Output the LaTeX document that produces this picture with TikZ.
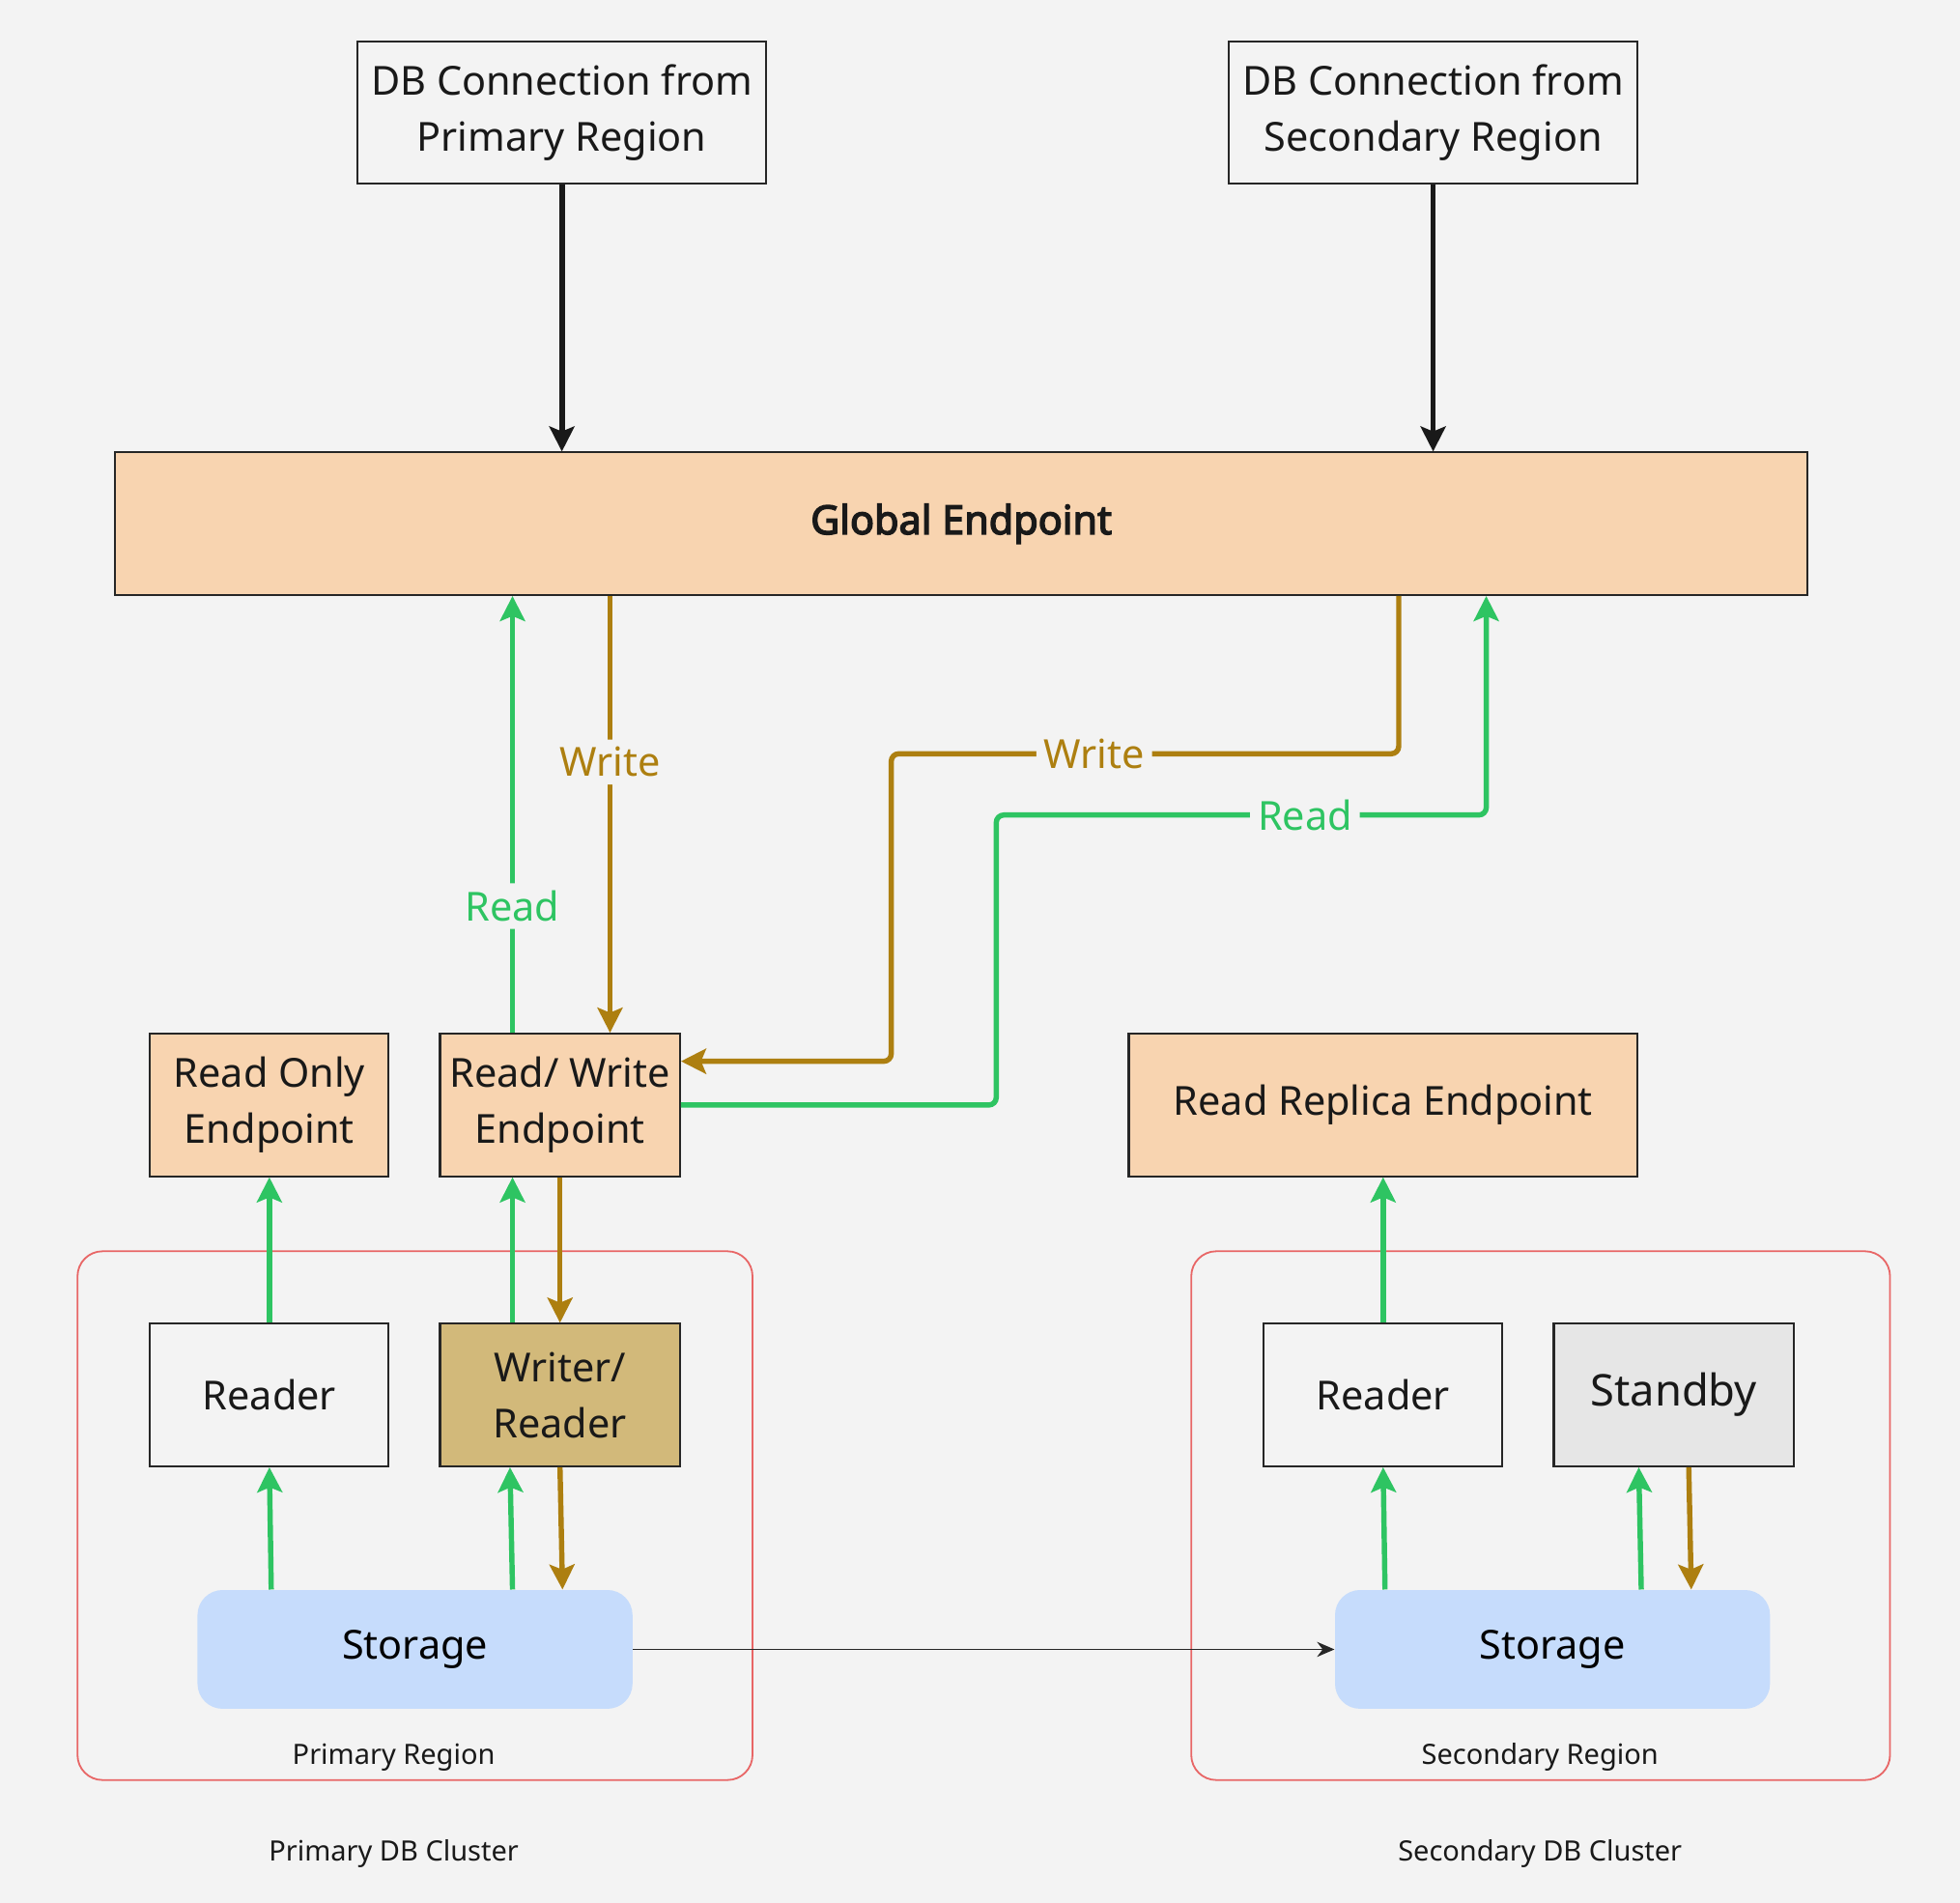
\documentclass[tikz,border=0pt]{standalone}
\usepackage{fontspec}
\setmainfont{Noto Sans}
\newfontfamily\gbold{Noto Sans}[FakeBold=3.5]
\usetikzlibrary{arrows.meta,calc}
\definecolor{bg}{HTML}{F3F3F3}
\definecolor{gr}{HTML}{2EC462}
\definecolor{br}{HTML}{AD7F10}
\definecolor{orf}{HTML}{F8D4B0}
\definecolor{wr}{HTML}{D2B97A}
\definecolor{sb}{HTML}{E6E6E6}
\definecolor{st}{HTML}{C6DCFC}
\definecolor{rg}{HTML}{E86666}
\begin{document}
\begin{tikzpicture}[x=0.5pt,y=-0.5pt,
 box/.style={draw=black!85,line width=0.8pt,align=center,font=\fontsize{16}{22.5}\selectfont,inner sep=0pt,text=black!90},
 stor/.style={fill=st,rounded corners=10pt,align=center,font=\fontsize{16}{22}\selectfont,inner sep=0pt,minimum height=47.5pt},
 region/.style={draw=rg,line width=0.7pt,rounded corners=10pt},
 small/.style={font=\fontsize{11.2}{13}\selectfont,text=black!90},
 ga/.style={draw=gr,line width=2.1pt,-{Stealth[length=10pt,width=10pt,inset=2pt]},rounded corners=3pt},
 ba/.style={draw=br,line width=2.1pt,-{Stealth[length=10pt,width=10pt,inset=2pt]},rounded corners=3pt},
 ka/.style={draw=black!90,line width=2.2pt,-{Stealth[length=10pt,width=10pt,inset=2pt]}},
 lbl/.style={fill=bg,font=\fontsize{16}{22}\selectfont,inner sep=3pt}]
\fill[bg] (0,0) rectangle (1568,1522);
\useasboundingbox (0,0) rectangle (1568,1522);
\draw[region] (62,1001) rectangle (602,1424);
\draw[region] (953,1001) rectangle (1512,1424);
\node[small] (prl) at (315,1406) {Primary Region};
\node[small] (srl) at (1232,1406) {Secondary Region};
\node[small] (pdc) at (315,1483) {Primary DB Cluster};
\node[small] (sdc) at (1232,1483) {Secondary DB Cluster};

\node[box,minimum width=163.5pt,minimum height=57pt] (db1) at (449.5,90) {DB Connection from\\Primary Region};
\node[box,minimum width=163.5pt,minimum height=57pt] (db2) at (1146.5,90) {DB Connection from\\Secondary Region};
\node[box,fill=orf,minimum width=677pt,minimum height=57pt,font=\fontsize{16}{22}\gbold] (ge) at (769,419) {Global Endpoint};
\node[box,fill=orf,minimum width=95.5pt,minimum height=57pt] (ro) at (215.5,884) {Read Only\\Endpoint};
\node[box,fill=orf,minimum width=96pt,minimum height=57pt] (rw) at (448,884) {Read/ Write\\Endpoint};
\node[box,fill=orf,minimum width=203.5pt,minimum height=57pt] (rr) at (1106.5,884) {Read Replica Endpoint};
\node[box,minimum width=95.5pt,minimum height=57pt] (r1) at (215.5,1116) {Reader};
\node[box,fill=wr,minimum width=96pt,minimum height=57pt] (wrn) at (448,1116) {Writer/\\Reader};
\node[box,minimum width=95.5pt,minimum height=57pt] (r2) at (1106.5,1116) {Reader};
\node[box,fill=sb,minimum width=96pt,minimum height=57pt,font=\fontsize{17.5}{22}\selectfont] (sbn) at (1339,1116) {Standby};
\node[stor,minimum width=174pt] (s1) at (332,1319.5) {Storage};
\node[stor,minimum width=174pt] (s2) at (1242,1319.5) {Storage};

\draw[ka] (db1.south) -- (db1.south |- ge.north);
\draw[ka] (db2.south) -- (db2.south |- ge.north);

\draw[ga] ($(rw.north)+(-38,0)$) -- node[lbl,text=gr,pos=0.29]{Read} ($(ge.south)+(-359,0)$);
\draw[ba] ($(ge.south)+(-281,0)$) -- node[lbl,text=br,pos=0.38]{Write} ($(rw.north)+(40,0)$);
\draw[ba] ($(ge.south)+(350,0)$) |- (713,603) node[lbl,text=br,pos=0.8]{Write} |- ($(rw.east)+(0,-35)$);
\draw[ga] (rw.east) -| (797,652) -- node[lbl,text=gr,pos=0.63]{Read} (1189,652) -- ($(ge.south)+(420,0)$);

\draw[ga] (r1.north) -- (ro.south);
\draw[ga] ($(wrn.north)+(-38,0)$) -- ($(rw.south)+(-38,0)$);
\draw[ba] (rw.south) -- (wrn.north);
\draw[ga] ($(s1.north)+(-115,0)$) -- (r1.south);
\draw[ga] ($(s1.north)+(78,0)$) -- ($(wrn.south)+(-40,0)$);
\draw[ba] (wrn.south) -- ($(s1.north)+(118,0)$);
\draw[black!85,line width=0.7pt,-{Stealth[length=7pt,width=6pt]}] (s1.east) -- (s2.west);
\draw[ga] (r2.north) -- (rr.south);
\draw[ga] ($(s2.north)+(-134,0)$) -- (r2.south);
\draw[ga] ($(s2.north)+(71,0)$) -- ($(sbn.south)+(-28,0)$);
\draw[ba] ($(sbn.south)+(12,0)$) -- ($(s2.north)+(111,0)$);
\end{tikzpicture}
\end{document}
